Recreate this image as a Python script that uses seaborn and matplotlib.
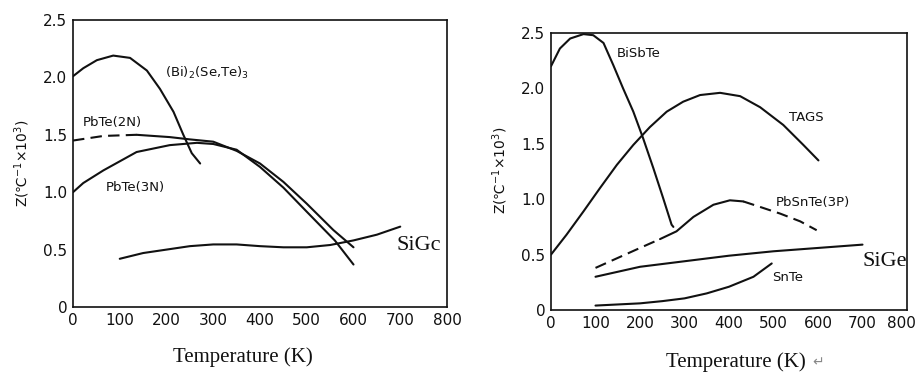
import matplotlib
matplotlib.use("Agg")
import matplotlib.pyplot as plt
import matplotlib.transforms as mtransforms
import seaborn as sns
import numpy as np
import pandas as pd

# ---------------- data (left panel) ----------------
bi_T = [0, 22, 51, 86, 122, 158, 186, 215, 236, 254, 272]
bi_Z = [2.01, 2.08, 2.15, 2.19, 2.17, 2.06, 1.90, 1.70, 1.50, 1.34, 1.25]

pb2_T = [0, 65, 136, 207, 250, 300, 350, 400, 450, 500, 557, 600]
pb2_Z = [1.45, 1.49, 1.50, 1.48, 1.46, 1.44, 1.36, 1.25, 1.09, 0.90, 0.67, 0.52]
pb2_dash_end = 190

pb3_T = [0, 22, 65, 136, 207, 265, 300, 350, 400, 450, 500, 560, 600]
pb3_Z = [1.00, 1.08, 1.19, 1.35, 1.41, 1.43, 1.42, 1.37, 1.22, 1.04, 0.83, 0.58, 0.37]

sige1_T = [100, 150, 200, 250, 300, 350, 400, 450, 500, 550, 600, 650, 700]
sige1_Z = [0.42, 0.47, 0.50, 0.53, 0.545, 0.545, 0.53, 0.52, 0.52, 0.54, 0.58, 0.63, 0.70]

# ---------------- data (right panel) ----------------
bst_T = [0, 20, 43, 73, 95, 118, 140, 162, 185, 207, 230, 252, 271, 275]
bst_Z = [2.20, 2.36, 2.45, 2.49, 2.48, 2.41, 2.21, 2.00, 1.79, 1.55, 1.28, 1.01, 0.77, 0.75]

tags_T = [0, 35, 73, 110, 148, 185, 222, 260, 297, 335, 380, 425, 470, 522, 567, 601]
tags_Z = [0.50, 0.68, 0.89, 1.10, 1.31, 1.49, 1.65, 1.79, 1.88, 1.94, 1.96, 1.93, 1.83, 1.67, 1.49, 1.35]

psn_T = [100, 150, 200, 245, 282, 320, 365, 402, 432, 470, 515, 560, 597]
psn_Z = [0.38, 0.47, 0.56, 0.64, 0.71, 0.84, 0.95, 0.99, 0.98, 0.93, 0.87, 0.80, 0.72]
psn_solid = (245, 432)

sige2_T = [100, 200, 300, 400, 500, 600, 700]
sige2_Z = [0.30, 0.39, 0.44, 0.49, 0.53, 0.56, 0.59]

snte_T = [100, 150, 200, 250, 300, 350, 400, 455, 496]
snte_Z = [0.04, 0.05, 0.06, 0.08, 0.105, 0.15, 0.21, 0.30, 0.42]

x_ticks = [0, 100, 200, 300, 400, 500, 600, 700, 800]
y_ticks = [0, 0.5, 1.0, 1.5, 2.0, 2.5]
y_ticklabels = ["0", "0.5", "1.0", "1.5", "2.0", "2.5"]
ylabel = "Z(\u2103$^{-1}$\u00d710$^3$)"
xlabel = "Temperature (K)"

# ---------------- figure ----------------
sns.set_style("white")
plt.rcParams["font.family"] = ["DejaVu Sans"]
LW = 1.5
C = "#111111"

fig = plt.figure(figsize=(9.16, 3.72), dpi=100)
axL = fig.add_axes([73/916, 1-307/372, (447-73)/916, (307-20)/372])
axR = fig.add_axes([551/916, 1-310/372, (907-551)/916, (310-33)/372])


def seg(ax, T, Z, lo=None, hi=None, ls="-"):
    df = pd.DataFrame({"T": T, "Z": Z})
    if lo is not None:
        df = df[df["T"] >= lo]
    if hi is not None:
        df = df[df["T"] <= hi]
    sns.lineplot(data=df, x="T", y="Z", ax=ax, color=C, lw=LW, sort=False,
                 estimator=None, linestyle=ls)
    ln = ax.lines[-1]
    ln.set_solid_joinstyle("round")
    if ls == "--":
        ln.set_dashes([5.5, 3])


# left
seg(axL, bi_T, bi_Z)
seg(axL, pb2_T, pb2_Z, hi=pb2_dash_end, ls="--")
seg(axL, pb2_T, pb2_Z, lo=136)
seg(axL, pb3_T, pb3_Z)
seg(axL, sige1_T, sige1_Z)

# right
seg(axR, bst_T, bst_Z)
seg(axR, tags_T, tags_Z)
seg(axR, psn_T, psn_Z, hi=psn_solid[0], ls="--")
seg(axR, psn_T, psn_Z, lo=psn_solid[0], hi=psn_solid[1])
seg(axR, psn_T, psn_Z, lo=psn_solid[1], ls="--")
seg(axR, sige2_T, sige2_Z)
seg(axR, snte_T, snte_Z)

for ax in (axL, axR):
    ax.set_xlim(0, 800)
    ax.set_ylim(0, 2.5)
    ax.set_xticks(x_ticks)
    ax.set_xticklabels([str(t) for t in x_ticks])
    ax.set_yticks(y_ticks)
    ax.set_yticklabels(y_ticklabels)
    ax.tick_params(direction="in", length=6, width=1.2, labelsize=11,
                   colors=C, pad=4)
    ax.set_xlabel("")
    ax.set_ylabel("")
    for s in ax.spines.values():
        s.set_color(C)
        s.set_linewidth(1.2)

# nudge the last tick label of the right panel so it stays inside the picture
lab = axR.xaxis.get_major_ticks()[-1].label1
lab.set_transform(lab.get_transform() +
                  mtransforms.ScaledTranslation(-4/72, 0, fig.dpi_scale_trans))

# annotations left
fs = 9.5
axL.text(197, 2.0, "(Bi)$_2$(Se,Te)$_3$", fontsize=fs, color=C)
axL.text(20, 1.58, "PbTe(2N)", fontsize=fs, color=C)
axL.text(70, 1.01, "PbTe(3N)", fontsize=fs, color=C)
axL.text(692, 0.50, "SiGc", fontsize=16, color=C, family="Liberation Serif")

# annotations right
axR.text(148, 2.28, "BiSbTe", fontsize=fs, color=C)
axR.text(535, 1.71, "TAGS", fontsize=fs, color=C)
axR.text(505, 0.94, "PbSnTe(3P)", fontsize=fs, color=C)
axR.text(498, 0.26, "SnTe", fontsize=fs, color=C)
axR.text(700, 0.40, "SiGe", fontsize=16, color=C, family="Liberation Serif")

fig.text(22/916, 1-163/372, ylabel, rotation=90, ha="center", va="center",
         fontsize=10, color=C)
fig.text(500/916, 1-170/372, ylabel, rotation=90, ha="center", va="center",
         fontsize=10, color=C)
fig.text(243/916, 1-357/372, xlabel, ha="center", va="center", fontsize=15,
         color=C, family="Liberation Serif")
fig.text(736/916, 1-362/372, xlabel, ha="center", va="center", fontsize=15,
         color=C, family="Liberation Serif")
fig.text(812/916, 1-362/372, "\u21b5", ha="left", va="center", fontsize=10,
         color="#888888", family="DejaVu Sans")

fig.savefig("out.png", dpi=100)
